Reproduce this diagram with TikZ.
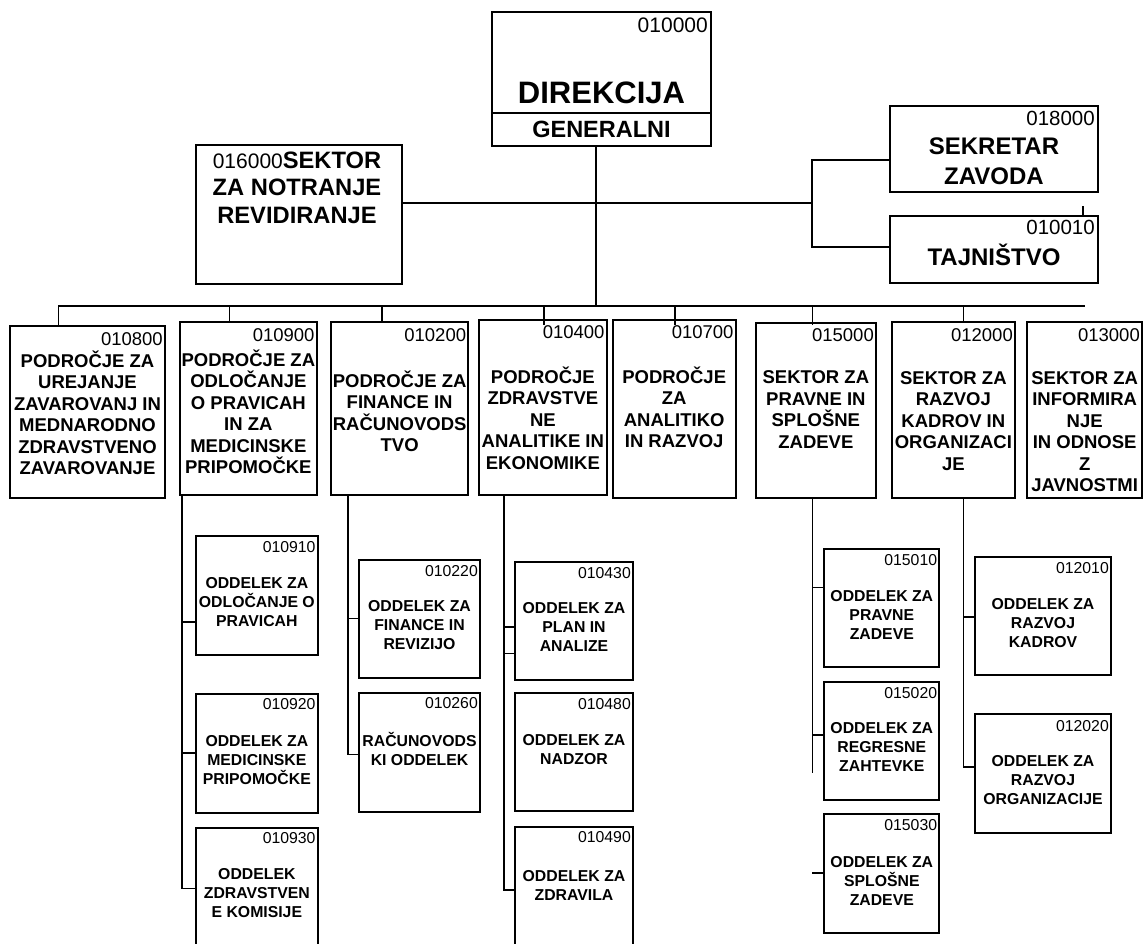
\documentclass[tikz,border=0pt]{standalone}
\usepackage{fontspec}
\setmainfont{Liberation Sans}
\usetikzlibrary{calc}
\tikzset{
  boxline/.style={line width=1.8pt},
  box/.style={draw, boxline, inner sep=0pt, outer sep=0pt},
  openbox/.style={inner sep=0pt, outer sep=0pt},
  ln/.style={line width=1.6pt},
  numII/.style={font=\fontsize{18.5}{21.5}\selectfont, inner sep=0pt, anchor=east},
  txtII/.style={font=\fontsize{18.5}{21.5}\selectfont\bfseries, align=center, inner sep=0pt},
  numIII/.style={font=\fontsize{15.8}{19}\selectfont, inner sep=0pt, anchor=east},
  txtIII/.style={font=\fontsize{15.8}{19}\selectfont\bfseries, align=center, inner sep=0pt},
  numI/.style={font=\fontsize{20.5}{24}\selectfont, inner sep=0pt, anchor=east},
  txtI/.style={font=\fontsize{24}{29.3}\selectfont\bfseries, align=center, inner sep=0pt},
}
\newcommand\obII[9]{%
  \node[box, minimum width={#4-#2}, minimum height={#5-#3}] (#1) at ({(#2+#4)/2},{(#3+#5)/2}) {};
  \node[numII] (#1n) at ({#4-2},#7) {#6};
  \node[txtII] (#1t) at ({(#2+#4)/2},#8) {#9};
}
\newcommand\obIII[9]{%
  \node[box, minimum width={#4-#2}, minimum height={#5-#3}] (#1) at ({(#2+#4)/2},{(#3+#5)/2}) {};
  \node[numIII] (#1n) at ({#4-2},#7) {#6};
  \node[txtIII] (#1t) at ({(#2+#4)/2},#8) {#9};
}
\newcommand\obIIIopen[9]{%
  \node[openbox, minimum width={#4-#2}, minimum height={#5-#3}] (#1) at ({(#2+#4)/2},{(#3+#5)/2}) {};
  \draw[boxline] (#1.south west) -- (#1.north west) -- (#1.north east) -- (#1.south east);
  \node[numIII] (#1n) at ({#4-2},#7) {#6};
  \node[txtIII] (#1t) at ({(#2+#4)/2},#8) {#9};
}
\begin{document}
\begin{tikzpicture}[x=1pt,y=-1pt]
\fill[white] (0,0) rectangle (1143,943);
\useasboundingbox (0,0) rectangle (1143,943);

% ---- top level ----
\node[box, minimum width=219, minimum height=134] (dir) at (601.5,79) {};
\coordinate (y113) at (0,113);
\draw[boxline] (dir.west |- y113) -- (dir.east |- y113);
\node[font=\fontsize{21}{25}\selectfont, inner sep=0pt, anchor=east] (dirn) at (708,25.7) {010000};
\node[font=\fontsize{31}{36}\selectfont\bfseries, inner sep=0pt] (dirt) at (601.5,92.8) {DIREKCIJA};
\node[font=\fontsize{23.5}{28}\selectfont\bfseries, inner sep=0pt] (dirg) at (601.5,129.5) {GENERALNI};

\node[box, minimum width=206, minimum height=139] (rev) at (299,214.5) {};
\node[font=\fontsize{23.7}{27.7}\selectfont\bfseries, align=center, inner sep=0pt] (revt) at (297,187.7)
  {{\fontsize{21}{27.7}\selectfont\mdseries 016000}SEKTOR\\ZA NOTRANJE\\REVIDIRANJE};

\node[box, minimum width=208, minimum height=86] (sek) at (994,149) {};
\node[numI] (sekn) at (1095,118.3) {018000};
\node[txtI] (sekt) at (994,161.3) {SEKRETAR\\ZAVODA};

\node[box, minimum width=208, minimum height=67] (taj) at (994,249.5) {};
\node[numI] (tajn) at (1095,227) {010010};
\node[txtI] (tajt) at (994,255) {TAJNIŠTVO};

% top connectors
\coordinate (j1) at (812,203);
\coordinate (jS) at (812,160);
\coordinate (jT) at (812,247);
\draw[ln] (rev.east |- j1) -- (j1);
\draw[ln] (jS -| sek.west) -- (jS) -- (jT) -- (jT -| taj.west);
\coordinate (tk) at (1083,206);
\draw[ln] (tk) -- (tk |- taj.north);
\coordinate (dv) at (596,306);
\draw[ln] (dv |- dir.south) -- (dv);

% ---- level 2 ----
\obII{b800}{10}{325.7}{165}{498.3}{010800}{339.3}{412.8}{PODROČJE ZA\\UREJANJE\\ZAVAROVANJ IN\\MEDNARODNO\\ZDRAVSTVENO\\ZAVAROVANJE}
\obII{b900}{180}{322.3}{316.7}{495}{010900}{335}{412}{PODROČJE ZA\\ODLOČANJE\\O PRAVICAH\\IN ZA\\MEDICINSKE\\PRIPOMOČKE}
\obII{b200}{331}{322.3}{468.3}{495}{010200}{335}{411.5}{PODROČJE ZA\\FINANCE IN\\RAČUNOVODS\\TVO}
\obII{b400}{479}{320}{606.7}{495}{010400}{331.7}{418}{PODROČJE\\ZDRAVSTVE\\NE\\ANALITIKE IN\\EKONOMIKE}
\obII{b700}{612.7}{320}{735.7}{498.3}{010700}{331.7}{407.3}{PODROČJE\\ZA\\ANALITIKO\\IN RAZVOJ}
\obII{b150}{755.7}{323.3}{876}{498.3}{015000}{335}{409.5}{SEKTOR ZA\\PRAVNE IN\\SPLOŠNE\\ZADEVE}
\obII{b120}{891.7}{322.3}{1015}{498.3}{012000}{335}{421}{SEKTOR ZA\\RAZVOJ\\KADROV IN\\ORGANIZACI\\JE}
\obII{b130}{1027.3}{322.3}{1142}{498.3}{013000}{335}{431.7}{SEKTOR ZA\\INFORMIRA\\NJE\\IN ODNOSE\\Z\\JAVNOSTMI}

% bus and stubs
\coordinate (busL) at (58.3,306);
\coordinate (busR) at (1085,306);
\draw[ln] (busL) -- (busR);
\draw[ln] (busL) -- (busL |- b800.north);
\coordinate (s900) at (229.3,306);
\draw[ln] (s900) -- (s900 |- b900.north);
\coordinate (s200) at (381.7,306);
\draw[ln] (s200) -- (s200 |- b200.north);
\coordinate (s400) at (544,306);
\draw[ln] (s400) -- ($(s400 |- b400.north)+(0,5)$);
\coordinate (s700) at (675,306);
\draw[ln] (s700) -- ($(s700 |- b700.north)+(0,5)$);
\coordinate (s150) at (812.3,306);
\draw[ln] (s150) -- ($(s150 |- b150.north)+(0,2)$);
\coordinate (s120) at (963.3,306);
\draw[ln] (s120) -- (s120 |- b120.north);

% ---- level 3 ----
\obIII{b910}{196}{535.7}{317.7}{655}{010910}{546.7}{602.2}{ODDELEK ZA\\ODLOČANJE O\\PRAVICAH}
\obIII{b920}{196}{694.3}{317.7}{813.3}{010920}{704}{760}{ODDELEK ZA\\MEDICINSKE\\PRIPOMOČKE}
\obIIIopen{b930}{196}{827.7}{317.7}{944}{010930}{838.3}{893.3}{ODDELEK\\ZDRAVSTVEN\\E KOMISIJE}
\obIII{b220}{359}{560}{480}{678.3}{010220}{570.7}{625.5}{ODDELEK ZA\\FINANCE IN\\REVIZIJO}
\obIII{b260}{359}{692.7}{480}{811.7}{010260}{702.7}{748.8}{RAČUNOVODS\\KI ODDELEK}
\obIII{b430}{515}{561.7}{633}{680}{010430}{573}{626.5}{ODDELEK ZA\\PLAN IN\\ANALIZE}
\obIII{b480}{515}{693}{633}{811}{010480}{704}{749.8}{ODDELEK ZA\\NADZOR}
\obIIIopen{b490}{515}{827}{633}{944}{010490}{837.5}{885}{ODDELEK ZA\\ZDRAVILA}
\obIII{b151}{824.3}{549}{939.3}{666.7}{015010}{560}{615.3}{ODDELEK ZA\\PRAVNE\\ZADEVE}
\obIII{b152}{824.3}{681.7}{939.3}{800}{015020}{692.7}{747.2}{ODDELEK ZA\\REGRESNE\\ZAHTEVKE}
\obIII{b153}{824.3}{814.3}{939.3}{933.3}{015030}{825}{881.3}{ODDELEK ZA\\SPLOŠNE\\ZADEVE}
\obIII{b121}{975}{557.3}{1111}{675}{012010}{567.7}{623.3}{ODDELEK ZA\\RAZVOJ\\KADROV}
\obIII{b122}{975}{714.3}{1111}{833.3}{012020}{726}{780.5}{ODDELEK ZA\\RAZVOJ\\ORGANIZACIJE}

% level 3 connectors
\coordinate (v9a) at (182,621.7);
\coordinate (v9c) at (182,752.7);
\coordinate (v9b) at (182,888.3);
\draw[ln] (v9b |- b900.south) -- (v9b) -- (v9b -| b930.west);
\draw[ln] (v9a) -- (v9a -| b910.west);
\draw[ln] (v9c) -- (v9c -| b920.west);

\coordinate (v2a) at (348,618.3);
\coordinate (v2b) at (348,754.3);
\draw[ln] (v2b |- b200.south) -- (v2b) -- (v2b -| b260.west);
\draw[ln] (v2a) -- (v2a -| b220.west);

\coordinate (v4a) at (504,626.7);
\coordinate (v4c) at (504,653.3);
\coordinate (v4b) at (504,890);
\draw[ln] (v4b |- b400.south) -- (v4b) -- (v4b -| b490.west);
\draw[ln] (v4a) -- (v4a -| b430.west);
\draw[ln] (v4c) -- (v4c -| b430.west);

\coordinate (v15a) at (812.3,587.3);
\coordinate (v15c) at (812.3,735);
\coordinate (v15b) at (812.3,772.7);
\coordinate (v15d) at (812.3,872.7);
\draw[ln] (v15b |- b150.south) -- (v15b);
\draw[ln] (v15a) -- (v15a -| b151.west);
\draw[ln] (v15c) -- (v15c -| b152.west);
\draw[ln] (v15d) -- (v15d -| b153.west);

\coordinate (v12a) at (963.3,616.7);
\coordinate (v12b) at (963.3,766.7);
\draw[ln] (v12b |- b120.south) -- (v12b) -- (v12b -| b122.west);
\draw[ln] (v12a) -- (v12a -| b121.west);
\end{tikzpicture}
\end{document}
